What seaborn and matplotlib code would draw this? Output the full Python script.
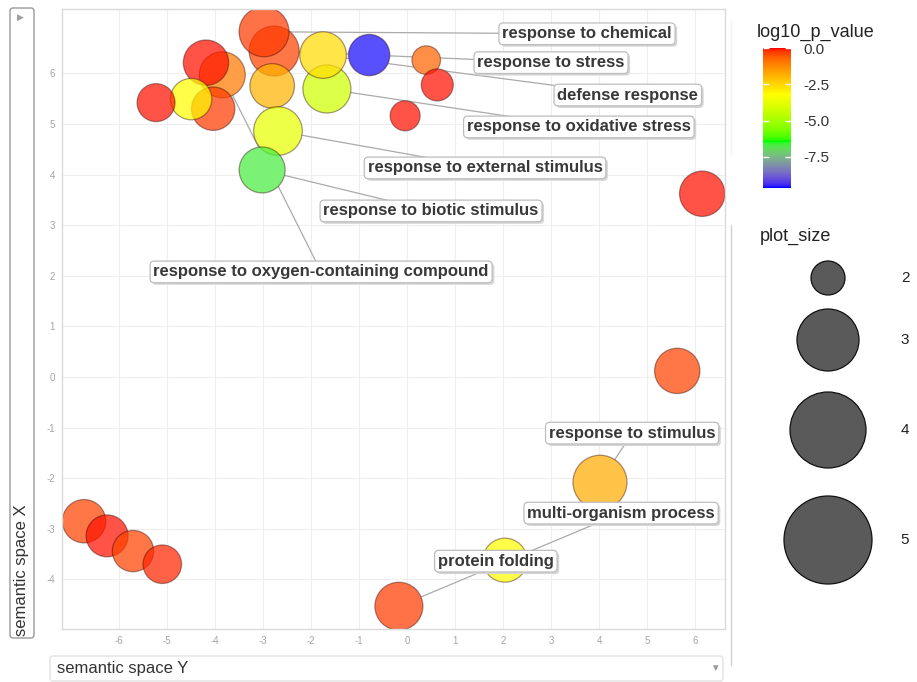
import numpy as np
import pandas as pd
import matplotlib
matplotlib.use("Agg")
import matplotlib.pyplot as plt
import matplotlib.patheffects as pe
from matplotlib.colors import ListedColormap, Normalize
from matplotlib.cm import ScalarMappable
from matplotlib.patches import FancyBboxPatch
import seaborn as sns

# ---------------------------------------------------------------------------
# GO terms in semantic space (horizontal = semantic space Y, vertical = X)
# ---------------------------------------------------------------------------
term_label = [
    "response to stress", "response to chemical", "response to oxidative stress",
    "defense response", None, None, None, None, None,
    "response to external stimulus", "response to biotic stimulus",
    "response to oxygen-containing compound", None, None, None, None,
    None, None, "response to stimulus", "protein folding",
    "multi-organism process", None, None, None, None,
]
plot_Y = [-2.77, -2.98, -1.67, -1.75, -0.79, 0.40, 0.63, -0.04, -2.81,
          -2.69, -3.02, -3.85, -4.19, -4.04, -4.50, -5.23,
          6.15, 5.63, 4.02, 2.04, -0.17, -6.73, -6.25, -5.71, -5.10]
plot_X = [6.44, 6.82, 5.69, 6.36, 6.36, 6.26, 5.77, 5.16, 5.75,
          4.86, 4.09, 5.97, 6.21, 5.30, 5.49, 5.42,
          3.62, 0.12, -2.08, -3.62, -4.53, -2.85, -3.14, -3.44, -3.70]
log10_p_value = [-0.35, -0.3, -4.2, -2.6, -9.6, -0.7, -0.05, -0.05, -1.9,
                 -3.7, -6.7, -1.0, -0.05, -0.3, -3.2, -0.05,
                 -0.05, -0.35, -1.8, -3.2, -0.3, -0.35, -0.05, -0.35, -0.15]
plot_size = [4.68, 4.68, 4.38, 4.17, 3.45, 2.05, 2.38, 2.18, 3.88,
             4.47, 4.08, 4.08, 3.99, 3.72, 3.45, 3.03,
             3.99, 3.99, 5.33, 3.80, 4.38, 3.72, 3.53, 3.45, 3.10]

# label box centres (semantic space Y, semantic space X)
label_pos = {
    "response to chemical": (3.75, 6.78),
    "response to stress": (3.00, 6.21),
    "defense response": (4.60, 5.57),
    "response to oxidative stress": (3.58, 4.94),
    "response to external stimulus": (1.625, 4.13),
    "response to biotic stimulus": (0.50, 3.28),
    "response to oxygen-containing compound": (-1.79, 2.075),
    "response to stimulus": (4.69, -1.11),
    "multi-organism process": (4.46, -2.69),
    "protein folding": (1.85, -3.64),
}

colorbar_ticks = [0.0, -2.5, -5.0, -7.5]
size_legend_values = [2, 3, 4, 5]
P_MIN = -9.65

df = pd.DataFrame({"plot_Y": plot_Y, "plot_X": plot_X,
                   "log10_p_value": log10_p_value, "plot_size": plot_size})

# ---------------------------------------------------------------------------
# blue -> green -> yellow -> red gradient interpolated in CIE Lab
# ---------------------------------------------------------------------------
_M = np.array([[0.4124564, 0.3575761, 0.1804375],
               [0.2126729, 0.7151522, 0.0721750],
               [0.0193339, 0.1191920, 0.9503041]])
_WHITE = np.array([0.95047, 1.0, 1.08883])


def srgb_to_lab(rgb):
    rgb = np.asarray(rgb, float)
    lin = np.where(rgb <= 0.04045, rgb / 12.92, ((rgb + 0.055) / 1.055) ** 2.4)
    xyz = lin @ _M.T / _WHITE
    f = np.where(xyz > 216 / 24389, np.cbrt(xyz), (24389 / 27 * xyz + 16) / 116)
    return np.stack([116 * f[..., 1] - 16,
                     500 * (f[..., 0] - f[..., 1]),
                     200 * (f[..., 1] - f[..., 2])], -1)


def lab_to_srgb(lab):
    fy = (lab[..., 0] + 16) / 116
    fx = fy + lab[..., 1] / 500
    fz = fy - lab[..., 2] / 200
    f = np.stack([fx, fy, fz], -1)
    xyz = np.where(f ** 3 > 216 / 24389, f ** 3, (116 * f - 16) / (24389 / 27))
    lin = np.clip((xyz * _WHITE) @ np.linalg.inv(_M).T, 0, 1)
    rgb = np.where(lin <= 0.0031308, 12.92 * lin, 1.055 * lin ** (1 / 2.4) - 0.055)
    return np.clip(rgb, 0, 1)


stops = np.array([[0, 0, 1], [0, 1, 0], [1, 1, 0], [1, 0, 0]], float)
stops_lab = srgb_to_lab(stops)
t = np.linspace(0, 1, 256)
pos = np.linspace(0, 1, len(stops))
lab = np.stack([np.interp(t, pos, stops_lab[:, k]) for k in range(3)], -1)
cmap = ListedColormap(lab_to_srgb(lab), name="revigo")
norm = Normalize(vmin=P_MIN, vmax=0.0)

# ---------------------------------------------------------------------------
# figure
# ---------------------------------------------------------------------------
sns.set_style("white")
plt.rcParams["font.family"] = ["Liberation Sans", "DejaVu Sans"]
plt.rcParams["axes.unicode_minus"] = False

W, H = 917, 682
fig = plt.figure(figsize=(W / 100, H / 100), dpi=100)

# pixel-space overlay for the surrounding widgets and legends
over = fig.add_axes([0, 0, 1, 1])
over.set_xlim(0, W)
over.set_ylim(H, 0)
over.axis("off")

ax = fig.add_axes([62 / W, 1 - 629 / H, (725 - 62) / W, (629 - 9) / H])
ax.set_axisbelow(True)

SIZES = (406, 1511)
SIZE_NORM = (2, 5.33)

# white discs under the bubbles keep the leader lines out of them
sns.scatterplot(data=df, x="plot_Y", y="plot_X", size="plot_size",
                sizes=SIZES, size_norm=SIZE_NORM, color="white",
                linewidth=0, legend=False, ax=ax, zorder=1.5)

sns.scatterplot(data=df, x="plot_Y", y="plot_X", hue="log10_p_value",
                size="plot_size", palette=cmap, hue_norm=(P_MIN, 0.0),
                sizes=SIZES, size_norm=SIZE_NORM, legend=False,
                ax=ax, zorder=2)
pts = ax.collections[-1]
fc = pts.get_facecolors()
fc[:, 3] = 0.72
pts.set_facecolors(fc)
pts.set_edgecolors((0.15, 0.0, 0.0, 0.40))
pts.set_linewidths(0.9)

ax.set_xlim(-7.19, 6.625)
ax.set_ylim(-4.98, 7.27)
ax.set_xticks(range(-6, 7))
ax.set_yticks(range(-4, 7))
ax.set_xlabel("")
ax.set_ylabel("")
ax.grid(True, color="#EEEEEE", lw=0.8)
for sp in ax.spines.values():
    sp.set_color("#DADADA")
    sp.set_linewidth(1.0)
ax.tick_params(axis="both", length=3, width=0.8, color="#B5B5B5",
               labelcolor="#A5A5A5", labelsize=7, pad=2)

# labels with leader segments; the label boxes carry a soft drop shadow
box_shadow = [pe.SimplePatchShadow(offset=(1.5, -1.5), shadow_rgbFace="#D6D6D6", alpha=1.0),
              pe.Normal()]
for lab_txt, bx, by in zip(term_label, plot_Y, plot_X):
    if not lab_txt:
        continue
    lx, ly = label_pos[lab_txt]
    ax.plot([bx, lx], [by, ly], color="#AAAAAA", lw=0.9, zorder=1)
    txt = ax.text(lx, ly, lab_txt, ha="center", va="center", fontsize=12,
                  fontweight="bold", color="#383838", zorder=4,
                  bbox=dict(boxstyle="round,pad=0.2,rounding_size=0.25",
                            fc="white", ec="#BDBDBD", lw=0.9))
    txt.get_bbox_patch().set_path_effects(box_shadow)

# axis title widgets
over.add_patch(FancyBboxPatch((50, 656), 673, 25, boxstyle="round,pad=0,rounding_size=3",
                              fc="white", ec="#E2E2E2", lw=1))
over.text(57, 668.5, "semantic space Y", ha="left", va="center", fontsize=12, color="#333333")
over.text(715, 668, "▼", ha="center", va="center", fontsize=7, color="#9A9A9A")

over.add_patch(FancyBboxPatch((10, 8), 24, 630, boxstyle="round,pad=0,rounding_size=3",
                              fc="white", ec="#9A9A9A", lw=1))
over.text(20.5, 17, "▶", ha="center", va="center", fontsize=6.5, color="#A0A0A0")
over.text(22, 636, "semantic space X", rotation=90, ha="center", va="bottom",
          fontsize=12, color="#333333")

over.plot([731, 731], [225, 665], color="#D2D2D2", lw=1)
over.plot([731, 731], [20, 155], color="#F3F3F3", lw=1)

# colour bar
cax = fig.add_axes([763 / W, 1 - 188 / H, 28 / W, 140 / H])
cb = fig.colorbar(ScalarMappable(norm=norm, cmap=cmap), cax=cax)
cb.outline.set_visible(False)
cb.set_ticks(colorbar_ticks)
cb.set_ticklabels([f"{v:.1f}" for v in colorbar_ticks])
cax.tick_params(length=0, labelsize=11, pad=9, labelcolor="#333333")
cax.hlines(colorbar_ticks, 0, 0.2, colors="white", lw=1)
cax.hlines(colorbar_ticks, 0.8, 1.0, colors="white", lw=1)
over.text(757, 32, "log10_p_value", ha="left", va="center", fontsize=13, color="#222222")

# size legend
legend_diam_px = [34, 62, 76, 88]
legend_y_px = [278, 340, 430, 540]
over.text(760, 236, "plot_size", ha="left", va="center", fontsize=13, color="#222222")
over.scatter([828] * len(size_legend_values), legend_y_px,
             s=[(d * 0.72) ** 2 for d in legend_diam_px],
             c="#5A5A5A", edgecolors="#111111", linewidths=0.9)
for v, yy in zip(size_legend_values, legend_y_px):
    over.text(905, yy, str(v), ha="center", va="center", fontsize=11, color="#222222")

fig.savefig("out.png", dpi=100)
